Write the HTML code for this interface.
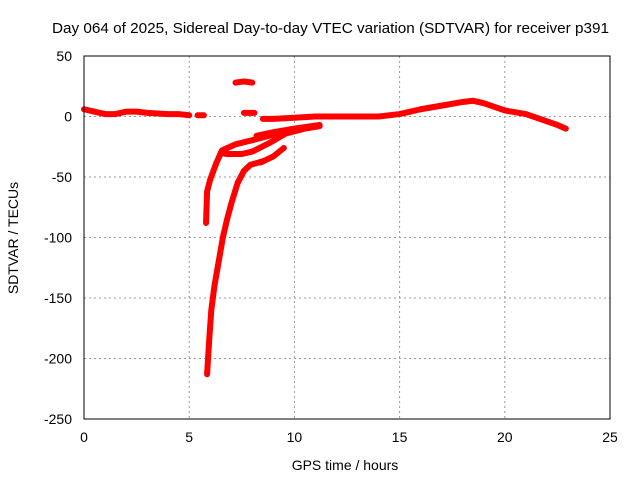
<!DOCTYPE html>
<html><head><meta charset="utf-8"><style>
body{margin:0;background:#fff}
svg{font-family:"Liberation Sans",sans-serif;font-size:14px}
</style></head><body>
<svg id="c" width="640" height="480">
<text x="52" y="33" textLength="557" lengthAdjust="spacingAndGlyphs" style="font-size:15px">Day 064 of 2025, Sidereal Day-to-day VTEC variation (SDTVAR) for receiver p391</text>
<g id="grid"></g><g id="marks"></g>
<rect x="84" y="56" width="526" height="363" fill="none" stroke="#000"/>
<text x="345" y="470" text-anchor="middle">GPS time / hours</text>
<text transform="translate(18,238) rotate(-90)" text-anchor="middle">SDTVAR / TECUs</text>
</svg>
<script>
const xTicks=[0,5,10,15,20,25];
const yTicks=[50,0,-50,-100,-150,-200,-250];
const trackBase=[[0,6],[0.5,4],[1,2],[1.5,2],[2,4],[2.5,4],[3,3],[4,2],[4.5,2],[5,1]];
const trackBase2=[[5.4,1],[5.7,1]];
const trackHigh=[[7.2,28],[7.6,29],[8,28]];
const trackSmall=[[7.6,3],[8.1,3]];
const trackMain=[[8.5,-2],[9,-2],[10,-1],[11,0],[12,0],[13,0],[14,0],[15,2],[15.5,4],[16,6],[17,9],[18,12],[18.5,13],[19,11],[19.5,8],[20,5],[21,2],[21.5,-1],[22,-4],[22.5,-7],[22.9,-10]];
const trackUpper=[[5.8,-88],[5.85,-62],[6.0,-52],[6.3,-38],[6.56,-28],[7.2,-23],[8.13,-19],[9.2,-14],[10.27,-11]];
const trackMid=[[6.5,-30],[6.8,-31],[7.5,-31],[8.0,-29],[8.8,-22],[9.6,-14],[10.5,-10],[11.2,-8]];
const trackBand=[[8.2,-16],[9,-13],[10,-10],[11.2,-7]];
const trackShort=[[8.4,-38],[9,-33],[9.5,-26]];
const trackSteep=[[5.85,-213],[5.95,-185],[6.05,-160],[6.2,-140],[6.4,-120],[6.6,-100],[6.8,-85],[7.0,-72],[7.3,-55],[7.6,-45],[7.9,-40],[8.5,-37]];
const X=h=>84+h*526/25, Y=v=>116.5-v*363/300;
const ns="http://www.w3.org/2000/svg";
const g=document.getElementById('grid'), m=document.getElementById('marks');
function el(t,a,p){const e=document.createElementNS(ns,t);for(const k in a)e.setAttribute(k,a[k]);p.appendChild(e);return e;}
xTicks.forEach(t=>{
 if(t>0&&t<25){const l=el('line',{x1:X(t),x2:X(t),y1:56,y2:419,stroke:'#999','stroke-dasharray':'2,3'},g);
 
 }
 const tx=el('text',{x:X(t),y:442,'text-anchor':'middle'},g);tx.textContent=t;
 
 
});
yTicks.forEach(t=>{
 if(t<50&&t>-250){const l=el('line',{x1:84,x2:610,y1:Y(t),y2:Y(t),stroke:'#999','stroke-dasharray':'2,3'},g);
 
 }
 const tx=el('text',{x:72,y:Y(t)+5,'text-anchor':'end'},g);tx.textContent=t;
 
 
});
[trackBase,trackBase2,trackHigh,trackSmall,trackMain,trackUpper,trackMid,trackBand,trackShort,trackSteep].forEach((tr,i)=>{
 const p=el('polyline',{points:tr.map(d=>X(d[0])+','+Y(d[1])).join(' '),fill:'none',stroke:'#f00','stroke-width':6,'stroke-linejoin':'round','stroke-linecap':'round'},m);
 
 
});
</script>
</body></html>
